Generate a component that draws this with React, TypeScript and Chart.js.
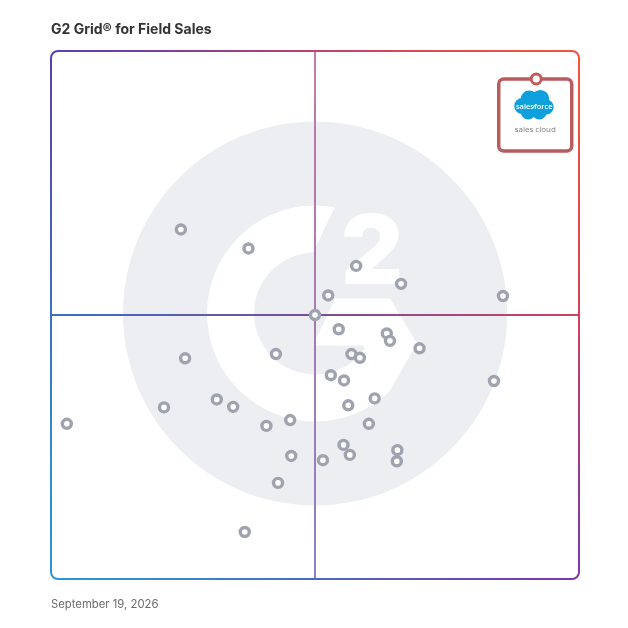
import React, { useEffect, useRef } from "react";
import { Chart, registerables } from "chart.js";

Chart.register(...registerables);

const titleText = "G2 Grid® for Field Sales";
const dateText = "September 19, 2026";
const leaderLogoText = "salesforce";
const leaderProductText = "sales cloud";

// Market presence (x) and satisfaction (y), 0–100
const productX = [24.6, 37.4, 57.8, 66.3, 52.5, 85.6, 50.0, 54.5, 63.6, 64.2, 69.8, 25.4, 42.6, 56.9, 58.5, 53.0, 55.5, 83.9, 61.3, 21.4, 31.4, 34.5, 56.3, 3.0, 45.3, 40.8, 60.2, 55.4, 56.6, 65.6, 45.5, 51.5, 65.5, 43.0, 36.7];
const productY = [66.2, 62.6, 59.3, 55.9, 53.7, 53.6, 50.0, 47.3, 46.5, 45.1, 43.7, 41.8, 42.6, 42.6, 41.9, 38.6, 37.6, 37.5, 34.2, 32.5, 34.0, 32.6, 32.9, 29.4, 30.1, 29.0, 29.4, 25.4, 23.5, 24.4, 23.3, 22.5, 22.3, 18.2, 8.9];
const leaderX = [91.9];
const leaderY = [94.7];

const rr = (ctx: CanvasRenderingContext2D, x: number, y: number, w: number, h: number, r: number) => {
  ctx.beginPath();
  ctx.moveTo(x + r, y);
  ctx.lineTo(x + w - r, y);
  ctx.arcTo(x + w, y, x + w, y + r, r);
  ctx.lineTo(x + w, y + h - r);
  ctx.arcTo(x + w, y + h, x + w - r, y + h, r);
  ctx.lineTo(x + r, y + h);
  ctx.arcTo(x, y + h, x, y + h - r, r);
  ctx.lineTo(x, y + r);
  ctx.arcTo(x, y, x + r, y, r);
  ctx.closePath();
};

const gridPlugin = {
  id: "g2grid",
  beforeDatasetsDraw(chart: any) {
    const { ctx, chartArea: a } = chart;
    const xs = chart.scales.x;
    const ys = chart.scales.y;
    const cx = xs.getPixelForValue(50);
    const cy = ys.getPixelForValue(50);
    ctx.save();

    // background G2 logo
    const lx = cx;
    const ly = cy - 1.5;
    ctx.beginPath();
    ctx.arc(lx, ly, 192, 0, Math.PI * 2);
    ctx.fillStyle = "#eceef1";
    ctx.fill();
    ctx.save();
    ctx.clip();
    ctx.beginPath();
    ctx.arc(lx, ly, 108, 0, Math.PI * 2);
    ctx.arc(lx, ly, 61, 0, Math.PI * 2, true);
    ctx.fillStyle = "#ffffff";
    ctx.fill();
    const poly = (pts: number[][], color: string) => {
      ctx.beginPath();
      pts.forEach((p, i) => (i ? ctx.lineTo(lx + p[0], ly + p[1]) : ctx.moveTo(lx + p[0], ly + p[1])));
      ctx.closePath();
      ctx.fillStyle = color;
      ctx.fill();
    };
    poly([[-2, -61], [27, -121], [200, -121], [200, 120], [86, 95], [48, 32]], "#eceef1");
    poly([[20, -15], [75, -15], [102, 30], [75, 77], [48, 32], [-2, 32]], "#ffffff");
    ctx.fillStyle = "#ffffff";
    ctx.font = "900 96px Inter, 'DejaVu Sans', sans-serif";
    ctx.textAlign = "center";
    ctx.textBaseline = "alphabetic";
    ctx.fillText("2", lx + 57, ly - 30);
    ctx.restore();

    // midlines
    const hg = ctx.createLinearGradient(a.left, 0, a.right, 0);
    hg.addColorStop(0, "#3b6ec6");
    hg.addColorStop(0.5, "#7a4c9e");
    hg.addColorStop(1, "#d2405c");
    ctx.strokeStyle = hg;
    ctx.lineWidth = 2;
    ctx.beginPath();
    ctx.moveTo(a.left, cy);
    ctx.lineTo(a.right, cy);
    ctx.stroke();
    const vg = ctx.createLinearGradient(0, a.top, 0, a.bottom);
    vg.addColorStop(0, "#c47aa6");
    vg.addColorStop(0.5, "#a67ab2");
    vg.addColorStop(1, "#8c80c4");
    ctx.strokeStyle = vg;
    ctx.beginPath();
    ctx.moveTo(cx, a.top);
    ctx.lineTo(cx, a.bottom);
    ctx.stroke();

    // border
    const cg = ctx.createConicGradient(-Math.PI * 0.75, cx, cy);
    cg.addColorStop(0, "#5a40b0");
    cg.addColorStop(0.125, "#c0406e");
    cg.addColorStop(0.25, "#f4553a");
    cg.addColorStop(0.375, "#d4405a");
    cg.addColorStop(0.5, "#7a3aa6");
    cg.addColorStop(0.625, "#4a6ac6");
    cg.addColorStop(0.75, "#2a96dc");
    cg.addColorStop(0.875, "#3c70c8");
    cg.addColorStop(1, "#5a40b0");
    ctx.strokeStyle = cg;
    ctx.lineWidth = 2;
    rr(ctx, a.left, a.top, a.right - a.left, a.bottom - a.top, 7);
    ctx.stroke();

    // leader callout box
    const px = xs.getPixelForValue(leaderX[0]);
    const py = ys.getPixelForValue(leaderY[0]);
    rr(ctx, px - 37.5, py, 73, 72, 5);
    ctx.fillStyle = "#ffffff";
    ctx.fill();
    ctx.strokeStyle = "#b95c5e";
    ctx.lineWidth = 3.5;
    ctx.stroke();
    // cloud
    ctx.fillStyle = "#0ea0dc";
    const bumps = [[-12, 27, 8], [-5, 20, 8.5], [6, 20, 9], [12, 28, 7.5], [5, 33, 7.5], [-6, 33, 7.5]];
    ctx.beginPath();
    bumps.forEach(([dx, dy, r]) => {
      ctx.moveTo(px - 2 + dx + r, py + dy);
      ctx.arc(px - 2 + dx, py + dy, r, 0, Math.PI * 2);
    });
    ctx.fill();
    ctx.fillStyle = "#ffffff";
    ctx.font = "600 7.5px 'Open Sans', sans-serif";
    ctx.textAlign = "center";
    ctx.textBaseline = "middle";
    ctx.fillText(leaderLogoText, px - 2, py + 28);
    ctx.fillStyle = "#7a7a7a";
    ctx.font = "8px 'Open Sans', sans-serif";
    ctx.fillText(leaderProductText, px - 1, py + 51);

    ctx.restore();
  },
  afterDraw(chart: any) {
    const { ctx } = chart;
    ctx.save();
    ctx.textAlign = "left";
    ctx.textBaseline = "alphabetic";
    ctx.fillStyle = "#333333";
    ctx.font = "bold 14px Inter, sans-serif";
    ctx.fillText(titleText, 51, 34);
    ctx.fillStyle = "#6b6b6b";
    ctx.font = "11.3px Inter, sans-serif";
    ctx.fillText(dateText, 51, 608);
    ctx.restore();
  },
};

export default function App() {
  const ref = useRef<HTMLCanvasElement>(null);
  useEffect(() => {
    if (!ref.current) return;
    const chart = new Chart(ref.current, {
      type: "scatter",
      data: {
        datasets: [
          {
            data: productX.map((x, i) => ({ x, y: productY[i] })),
            pointRadius: 4.5,
            pointBorderWidth: 3.4,
            pointBackgroundColor: "#ffffff",
            pointBorderColor: "#9ea3af",
            pointHoverRadius: 4.5,
          },
          {
            data: leaderX.map((x, i) => ({ x, y: leaderY[i] })),
            pointRadius: 5,
            pointBorderWidth: 3,
            pointBackgroundColor: "#ffffff",
            pointBorderColor: "#c05a5c",
            pointHoverRadius: 5,
          },
        ],
      },
      options: {
        responsive: false,
        animation: false,
        devicePixelRatio: 1,
        layout: { padding: { left: 51, top: 51, right: 49, bottom: 49 } },
        scales: {
          x: { type: "linear", min: 0, max: 100, display: false },
          y: { type: "linear", min: 0, max: 100, display: false },
        },
        plugins: { legend: { display: false }, tooltip: { enabled: false }, title: { display: false } },
      },
      plugins: [gridPlugin],
    });
    return () => chart.destroy();
  }, []);
  return (
    <div style={{ position: "absolute", left: 0, top: 0, width: 628, height: 628, background: "#fff" }}>
      <canvas ref={ref} width={628} height={628} />
    </div>
  );
}
